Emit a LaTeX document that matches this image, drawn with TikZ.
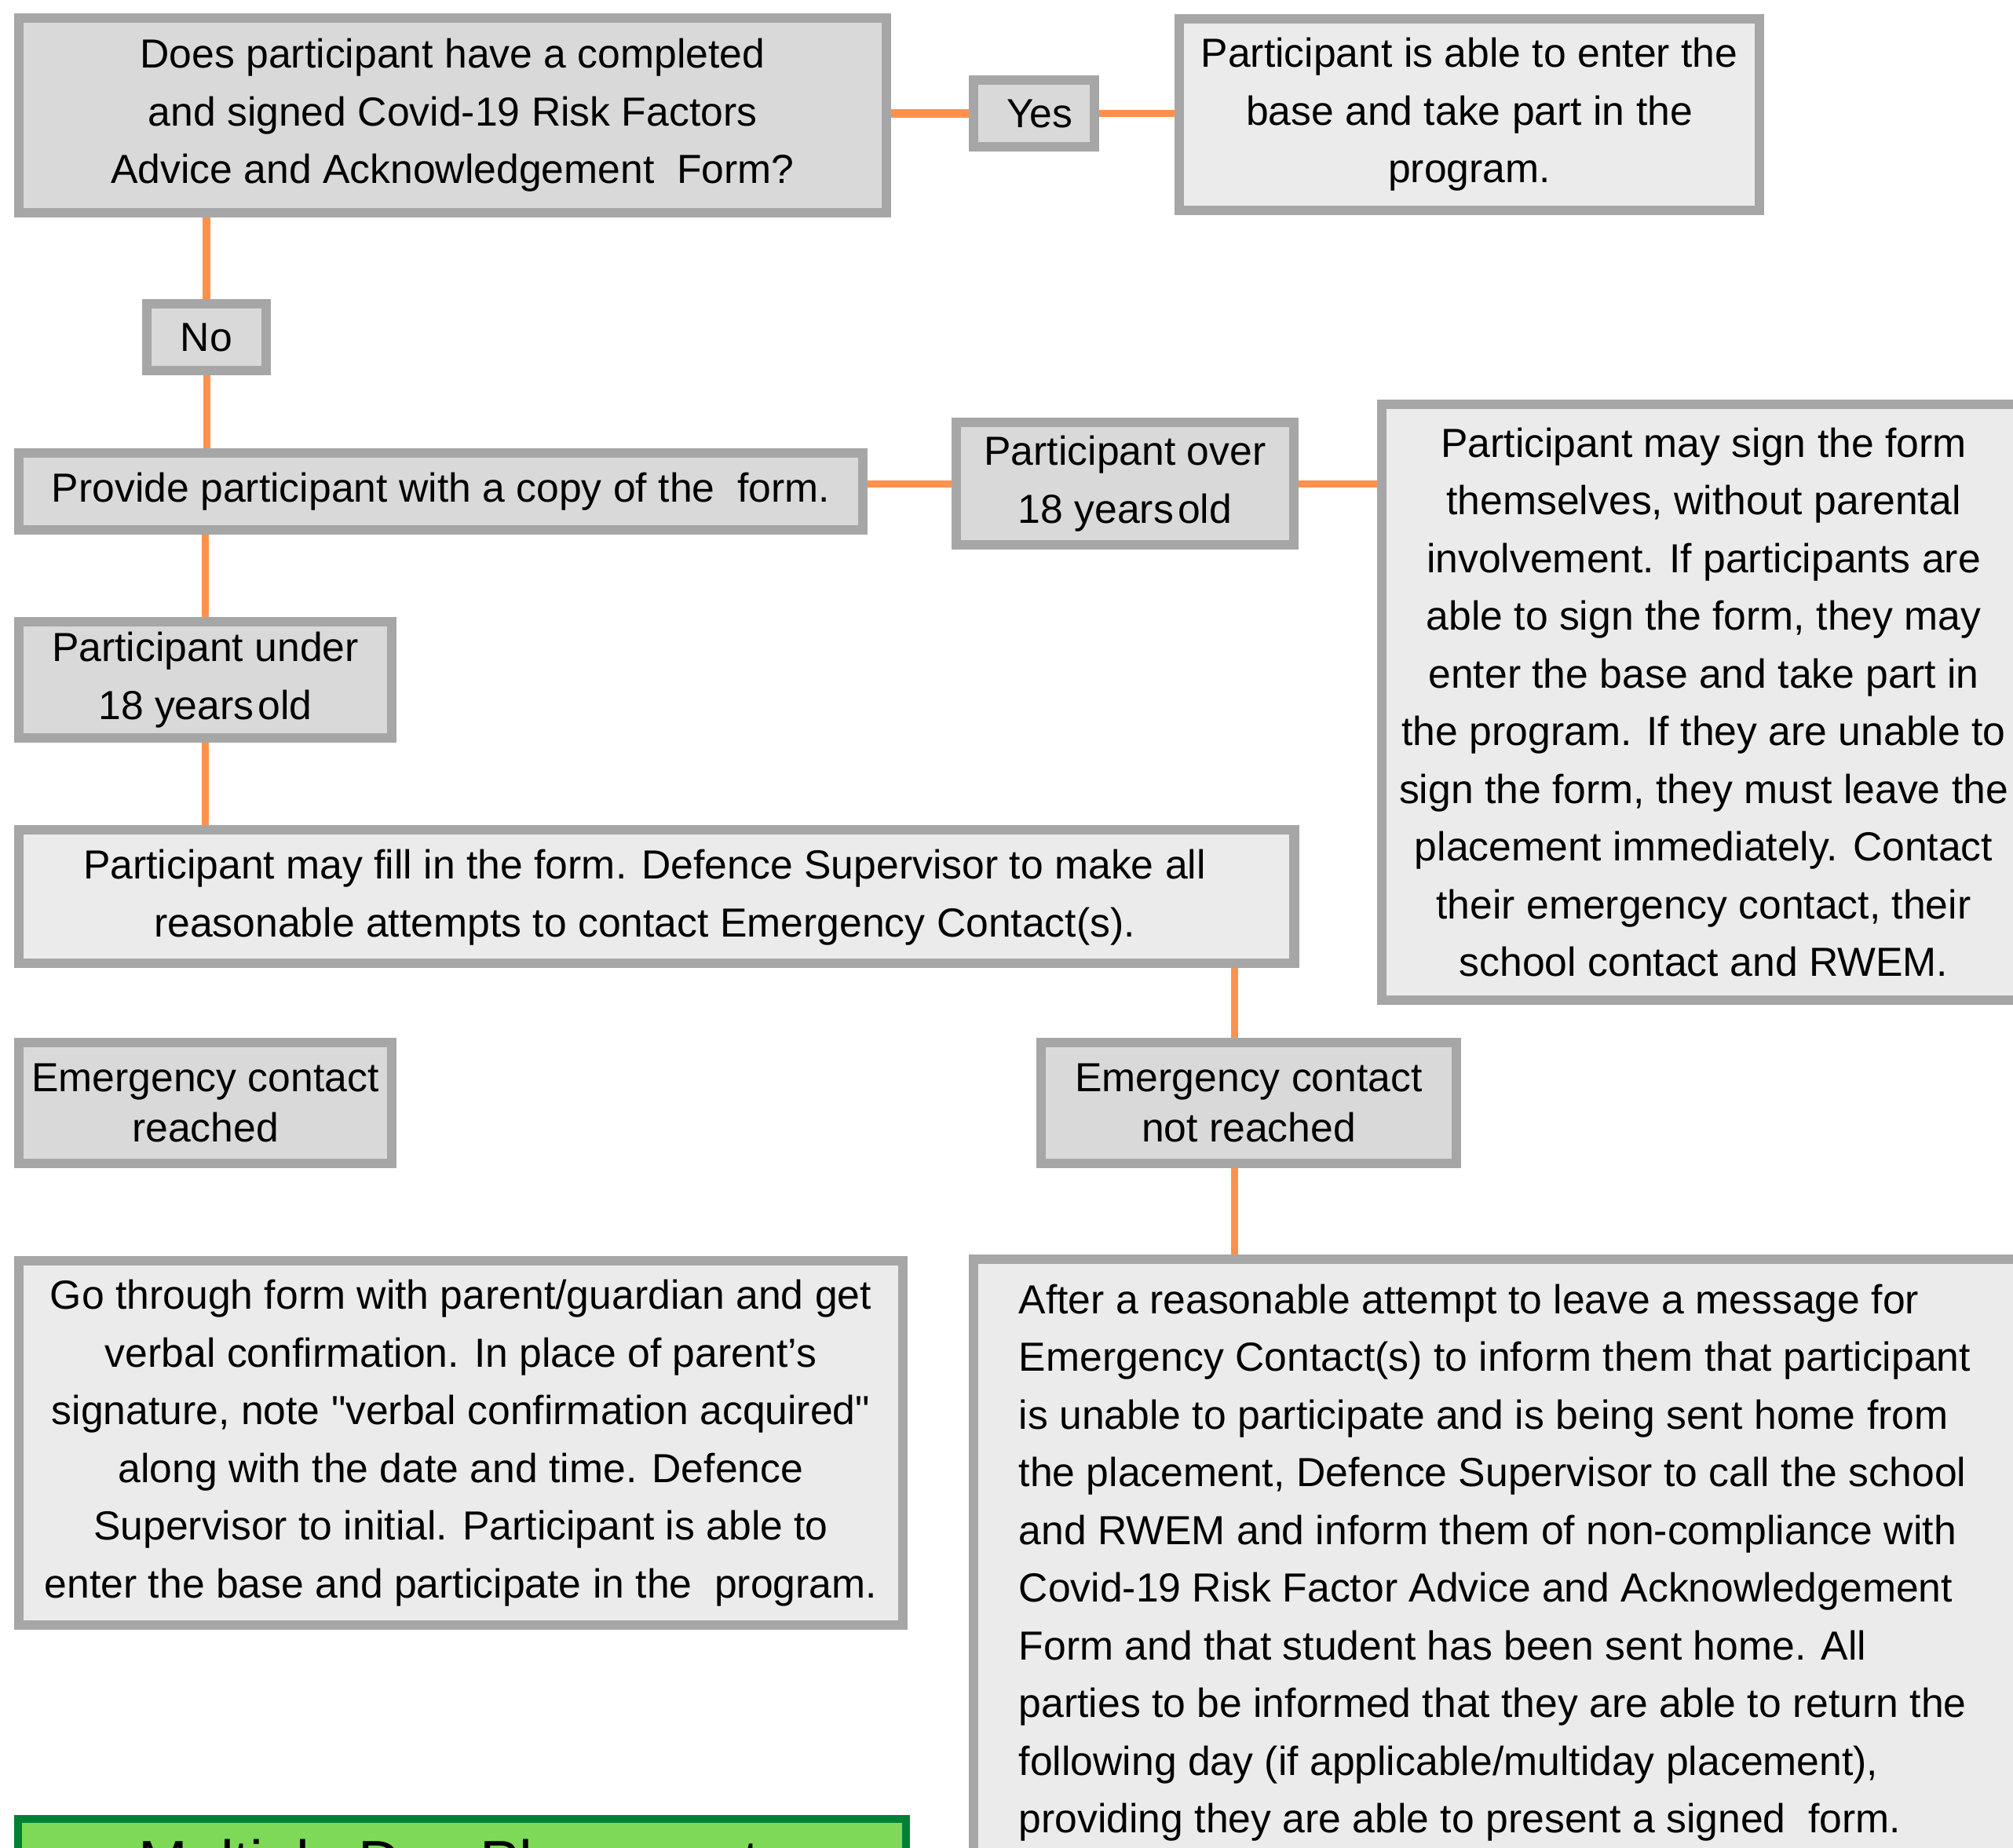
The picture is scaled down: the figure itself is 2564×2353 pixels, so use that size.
\documentclass[tikz,border=0pt]{standalone}
\usepackage{fontspec}
\setmainfont{Liberation Sans}[Ligatures=TeXOff]
\usetikzlibrary{backgrounds}
\definecolor{frame}{HTML}{A6A6A6}
\definecolor{darkfill}{HTML}{D9D9D9}
\definecolor{lightfill}{HTML}{EBEBEB}
\definecolor{linkcol}{HTML}{FF914D}
\definecolor{greenframe}{HTML}{008037}
\definecolor{greenfill}{HTML}{7ED957}
\begin{document}
\begin{tikzpicture}[x=0.01cm,y=-0.01cm,
  box/.style={draw=frame, line width=0.12cm, inner sep=0pt, align=center,
    font=\fontsize{14.7}{20.9}\selectfont},
  dark/.style={box, fill=darkfill},
  light/.style={box, fill=lightfill},
  tight/.style={font=\fontsize{14.7}{18.2}\selectfont},
  label/.style={inner sep=0pt, align=center, font=\fontsize{14.7}{20.9}\selectfont},
  link/.style={draw=linkcol, line width=0.09cm},
]
\useasboundingbox (0,0) rectangle (2564,2353);
\clip (0,0) rectangle (2564,2353);

% question and first answers
\node[dark, minimum width=11.05cm, minimum height=2.48cm] (q) at (576.5,147)
  {Does participant have a completed\\and signed Covid-19 Risk Factors\\Advice and Acknowledgement\ \ Form?};
\node[dark, minimum width=1.54cm, minimum height=0.85cm] (yes) at (1317,144.5) {\ Yes};
\node[light, minimum width=7.39cm, minimum height=2.43cm] (enter) at (1871.5,146)
  {Participant is able to enter the\\base and take part in the\\program.};
\node[dark, minimum width=1.52cm, minimum height=0.85cm] (no) at (263,429.5) {No};

% provide the form
\node[dark, minimum width=10.75cm, minimum height=0.97cm] (provide) at (561.5,626)
  {Provide participant with a copy of the\ \ form.};
\node[dark, minimum width=4.30cm, minimum height=1.56cm] (over) at (1433,616)
  {Participant over\\18 years\hspace{0.1em}old};
\node[light, minimum width=8.20cm, minimum height=7.59cm] (adult) at (2170,894.5)
  {Participant may sign the form\\themselves, without parental\\involvement. If participants are\\able to sign the form, they may\\enter the base and take part in\\the program. If they are unable to\\sign the form, they must leave the\\placement immediately. Contact\\their emergency contact, their\\school contact and RWEM.};
\node[dark, minimum width=4.75cm, minimum height=1.48cm] (under) at (261.5,866)
  {Participant under\\18 years\hspace{0.1em}old};
\node[light, minimum width=16.24cm, minimum height=1.70cm] (fillin) at (836,1142) {};
\node[label] (fillintext) at (821,1143)
  {Participant may fill in the form. Defence Supervisor to make all\\reasonable attempts to contact Emergency Contact(s).};

% emergency contact outcomes
\node[dark, tight, minimum width=4.75cm, minimum height=1.54cm] (reached) at (261.5,1405)
  {Emergency contact\\reached};
\node[dark, tight, minimum width=5.29cm, minimum height=1.54cm] (notr) at (1590.5,1405)
  {Emergency contact\\not reached};
\node[light, minimum width=11.26cm, minimum height=4.63cm] (verbal) at (587,1838)
  {Go through form with parent/guardian and get\\verbal confirmation. In place of parent’s\\signature, note "verbal confirmation acquired"\\along with the date and time. Defence\\Supervisor to initial. Participant is able to\\enter the base and participate in the\ \ program.};
\node[light, minimum width=13.54cm, minimum height=9.90cm] (after) at (1917,2099) {};
\node[anchor=north west, inner sep=0pt, align=left,
  font=\fontsize{14.7}{20.9}\selectfont] (aftertext) at (1297,1635)
  {After a reasonable attempt to leave a message for\\Emergency Contact(s) to inform them that participant\\is unable to participate and is being sent home from\\the placement, Defence Supervisor to call the school\\and RWEM and inform them of non-compliance with\\Covid-19 Risk Factor Advice and Acknowledgement\\Form and that student has been sent home. All\\parties to be informed that they are able to return the\\following day (if applicable/multiday placement),\\providing they are able to present a signed\ \ form.};

% multiple day section heading
\node[draw=greenframe, fill=greenfill, line width=0.10cm, inner sep=0pt,
  minimum width=11.31cm, minimum height=3cm] (multi) at (588.5,2467) {};
\node[anchor=base, inner sep=0pt, font=\fontsize{21.4}{26}\selectfont] (multitext) at (572,2397)
  {Multiple Day Placement};

% connectors
\coordinate (nrx) at ([xshift=-0.18cm]notr.north);
\begin{scope}[on background layer]
  \draw[link, line width=0.11cm] (q.east |- yes.west) -- (yes.west);
  \draw[link] (yes.east) -- (enter.west |- yes.east);
  \draw[link, line width=0.10cm] (q.south -| no.north) -- (no.north);
  \draw[link] (no.south) -- (no.south |- provide.north);
  \draw[link] (provide.east |- over.west) -- (over.west);
  \draw[link] (over.east) -- (adult.west |- over.east);
  \draw[link] (provide.south -| under.north) -- (under.north);
  \draw[link] (under.south) -- (under.south |- fillin.north);
  \draw[link] (nrx |- fillin.south) -- (nrx);
  \draw[link] (nrx |- notr.south) -- (nrx |- after.north);
\end{scope}
\end{tikzpicture}
\end{document}
